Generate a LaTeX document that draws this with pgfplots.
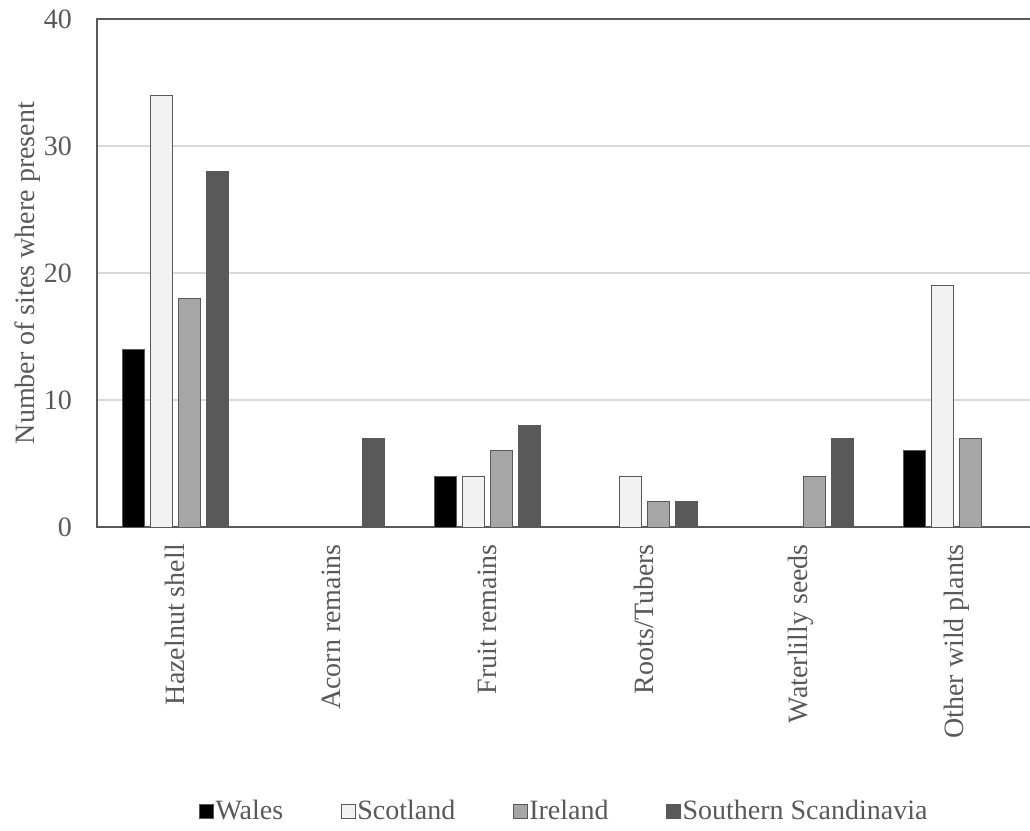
\documentclass[border=0pt]{standalone}
\usepackage{pgfplots}
\pgfplotsset{compat=1.18}
\usepackage{fontspec}
\setmainfont{Liberation Serif}
\definecolor{txt}{HTML}{595959}
\definecolor{scot}{HTML}{F2F2F2}
\definecolor{irl}{HTML}{A6A6A6}
\definecolor{ssc}{HTML}{595959}
\definecolor{edge}{HTML}{595959}
\definecolor{gridc}{HTML}{D9D9D9}
\begin{document}
\begin{tikzpicture}
\useasboundingbox (0,0) rectangle (1030pt,830pt);
\begin{axis}[
  at={(97pt,303pt)}, anchor=south west,
  scale only axis, width=937.8pt, height=508pt,
  ybar=6pt, bar width=22pt,
  xmin=-0.5, xmax=5.5, ymin=0, ymax=40,
  ytick={0,10,20,30,40},
  xtick={0,1,2,3,4,5},
  xticklabels={Hazelnut shell, Acorn remains, Fruit remains, Roots/Tubers, Waterlilly seeds, Other wild plants},
  major tick length=0pt,
  ymajorgrids, grid style={draw=gridc, line width=1.5pt},
  axis line style={draw=edge, line width=1.5pt},
  /pgf/number format/assume math mode=true,
  tick label style={font=\fontsize{28}{33}\selectfont, text=txt},
  yticklabel style={anchor=east, inner xsep=25pt},
  xticklabel style={rotate=90, anchor=east, inner xsep=17pt, inner ysep=0pt},
  ylabel={Number of sites where present},
  ylabel style={at={(axis description cs:-0.074,0.5)}, anchor=center, font=\fontsize{28}{33}\selectfont, text=txt},
  legend columns=4,
  legend style={at={(axis description cs:0.498,-0.559)}, anchor=center, draw=none, fill=none,
    font=\fontsize{28}{33}\selectfont, text=txt,
    /tikz/every even column/.append style={column sep=56pt},
    nodes={inner sep=1.5pt}},
  every axis plot post/.append style={legend image code/.code={\draw[#1, line width=1pt] (0pt,-8pt) rectangle (14pt,6pt);}},
]
\addplot[fill=black, draw=edge, line width=1pt] coordinates {(0,14) (2,4) (5,6)};
\addplot[fill=scot, draw=edge, line width=1pt] coordinates {(0,34) (2,4) (3,4) (5,19)};
\addplot[fill=irl, draw=edge, line width=1pt] coordinates {(0,18) (2,6) (3,2) (4,4) (5,7)};
\addplot[fill=ssc, draw=edge, line width=1pt] coordinates {(0,28) (1,7) (2,8) (3,2) (4,7)};
\legend{Wales, Scotland, Ireland, Southern Scandinavia}
\end{axis}
\end{tikzpicture}
\end{document}
